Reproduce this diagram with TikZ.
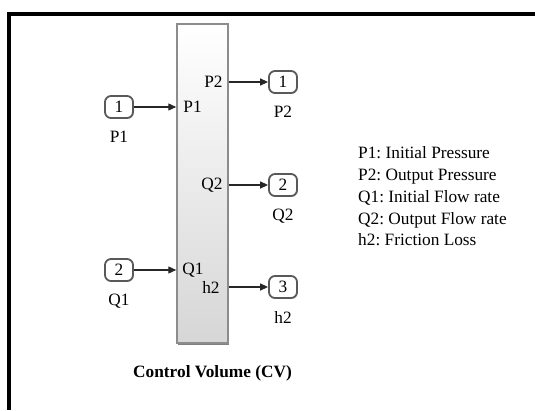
\documentclass[tikz,border=0pt]{standalone}
\usepackage{fontspec}
\setmainfont{Liberation Serif}
\usetikzlibrary{arrows.meta, positioning, shadows}
\frenchspacing

\begin{document}
\begin{tikzpicture}[
  x=1pt, y=-1pt,
  font=\fontsize{17.3}{21.7}\selectfont,
  block/.style={draw=black!45, line width=1.5pt, top color=white, bottom color=black!16, minimum width=51pt, minimum height=319pt, inner sep=0pt, drop shadow={shadow xshift=0.6pt, shadow yshift=-1.8pt, fill=black!55, opacity=0.9}},
  port/.style={draw=black!65, line width=1.8pt, rounded corners=6pt, fill=white, minimum width=28pt, minimum height=22pt, inner sep=0pt, drop shadow={shadow xshift=0.8pt, shadow yshift=-0.8pt, fill=black!30, opacity=0.8}},
  sig/.style={inner sep=0pt},
  ar/.style={-{Triangle[length=8pt, width=7pt]}, line width=1.3pt, black!85}
]
\useasboundingbox (0,0) rectangle (535,410);
\draw[line width=4pt] (9,410) -- (9,14) -- (535,14);
\node[block] (cv) at (202.5,183.5) {};
\node[port] (in1) at (119,107) {1};
\node[port] (in2) at (119,270) {2};
\node[port] (out1) at (283,82) {1};
\node[port] (out2) at (283,185) {2};
\node[port] (out3) at (283,287) {3};
\node[sig, below=12pt of in1] (in1l) {P1};
\node[sig, below=12pt of in2] (in2l) {Q1};
\node[sig, below=12pt of out1] (out1l) {P2};
\node[sig, below=12pt of out2] (out2l) {Q2};
\node[sig, below=12pt of out3] (out3l) {h2};
\node[sig, anchor=west, xshift=7pt] (p1i) at (cv.west |- in1) {P1};
\node[sig, anchor=west, xshift=6pt] (q1i) at (cv.west |- in2) {Q1};
\node[sig, anchor=east, xshift=-6pt] (p2i) at (cv.east |- out1) {P2};
\node[sig, anchor=east, xshift=-6pt] (q2i) at (cv.east |- out2) {Q2};
\node[sig, anchor=east, xshift=-9pt] (h2i) at (cv.east |- out3) {h2};
\foreach \p in {in1, in2}{\draw[ar] (\p) -- (\p -| cv.west);}
\foreach \p in {out1, out2, out3}{\draw[ar] (\p -| cv.east) -- (\p);}
\node[sig, font=\fontsize{17.3}{21.7}\selectfont\bfseries, below=22pt of cv, xshift=10pt] (cap) {Control Volume (CV)};
\node[sig, align=left, anchor=west] (legend) at (358,196.5) {P1: Initial Pressure\\P2: Output Pressure\\Q1: Initial Flow rate\\Q2: Output Flow rate\\h2: Friction Loss};
\end{tikzpicture}
\end{document}
